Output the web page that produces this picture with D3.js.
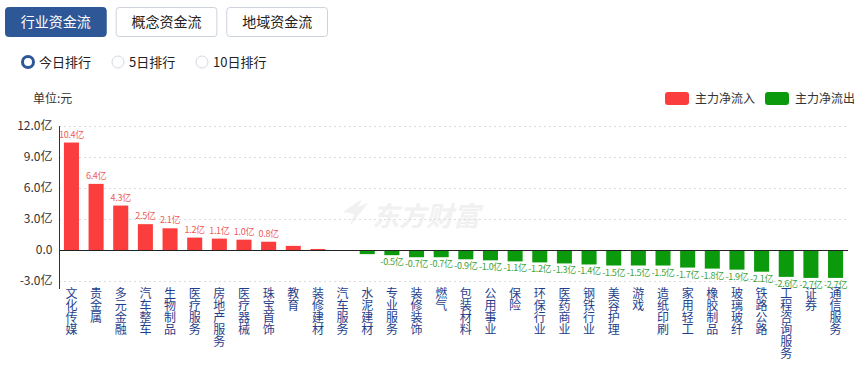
<!DOCTYPE html>
<html><head><meta charset="utf-8">
<script src="https://cdn.jsdelivr.net/npm/d3@7/dist/d3.min.js"></script>
<style>
body{margin:0;background:#fff;font-family:"Microsoft YaHei","Noto Sans CJK SC",sans-serif;}
</style></head>
<body><svg id="c" width="866" height="367"></svg>
<script>
const categories = ["文化传媒","贵金属","多元金融","汽车整车","生物制品","医疗服务","房地产服务","医疗器械","珠宝首饰","教育","装修建材","汽车服务","水泥建材","专业服务","装修装饰","燃气","包装材料","公用事业","保险","环保行业","医药商业","钢铁行业","美容护理","游戏","造纸印刷","家用轻工","橡胶制品","玻璃玻纤","铁路公路","工程咨询服务","证券","通信服务"];
const values = [10.4,6.4,4.3,2.5,2.1,1.2,1.1,1.0,0.8,0.4,0.1,-0.05,-0.4,-0.5,-0.7,-0.7,-0.9,-1.0,-1.1,-1.2,-1.3,-1.4,-1.5,-1.5,-1.5,-1.7,-1.8,-1.9,-2.1,-2.6,-2.7,-2.7];
const yTicks = [-3,0,3,6,9,12];
const tabs = ["行业资金流","概念资金流","地域资金流"];
const radios = ["今日排行","5日排行","10日排行"];
const legendItems = [{name:"主力净流入",color:"#fc3d3d"},{name:"主力净流出",color:"#0b9a0b"}];

const svg = d3.select("#c");
const font = '"Microsoft YaHei","Noto Sans CJK SC",sans-serif';

// tabs
const tabX = d3.scaleBand().domain(tabs).range([5,327]).paddingInner(0.09);
tabs.forEach((t,i)=>{
  const g = svg.append("g");
  g.append("rect").attr("x",tabX(t)+0.5).attr("y",7.5).attr("width",tabX.bandwidth()).attr("height",29)
    .attr("rx",3).attr("fill",i===0?"#2d5797":"#fff").attr("stroke",i===0?"#2d5797":"#ccd3dc");
  g.append("text").attr("x",tabX(t)+tabX.bandwidth()/2+0.5).attr("y",27).attr("text-anchor","middle")
    .attr("font-size",14).attr("font-family",font).attr("fill",i===0?"#fff":"#222").text(t);
});
// radios
const radioX = [28,118,202];
radios.forEach((r,i)=>{
  if(i===0){
    svg.append("circle").attr("cx",radioX[i]).attr("cy",62).attr("r",5.5).attr("fill","#fff").attr("stroke","#2d5797").attr("stroke-width",3);
  } else {
    svg.append("circle").attr("cx",radioX[i]).attr("cy",62).attr("r",6).attr("fill","#fff").attr("stroke","#d3d8e0").attr("stroke-width",1);
  }
  svg.append("text").attr("x",radioX[i]+11).attr("y",67).attr("font-size",13).attr("font-family",font).attr("fill","#222").text(r);
});
svg.append("text").attr("x",33).attr("y",103).attr("font-size",12).attr("font-family",font).attr("fill","#333").text("单位:元");

// legend
const legX=[665,765];
legendItems.forEach((l,i)=>{
  svg.append("rect").attr("x",legX[i]).attr("y",92).attr("width",24).attr("height",13).attr("rx",3).attr("fill",l.color);
  svg.append("text").attr("x",legX[i]+30).attr("y",103).attr("font-size",12).attr("font-family",font).attr("fill","#333").text(l.name);
});

// watermark
const wm = svg.append("g");
wm.append("path").attr("d","M343,212 L362,199 L358,207 L368,203 L350,226 L354,214 Z").attr("fill","#f1f1f1");
wm.append("text").attr("x",372).attr("y",226).attr("font-size",27).attr("font-weight","bold").attr("font-style","italic")
  .attr("font-family",font).attr("fill","#f1f1f1").text("东方财富");

// chart
const x = d3.scaleBand().domain(categories).range([59,848]).paddingInner(0.39).paddingOuter(0.2);
const y = d3.scaleLinear().domain([-3,12]).range([281,126]);

// grid
svg.append("g").selectAll("line").data(yTicks.filter(d=>d!==0)).join("line")
  .attr("x1",59).attr("x2",848).attr("y1",d=>Math.round(y(d))+0.5).attr("y2",d=>Math.round(y(d))+0.5)
  .attr("stroke","#dcdcdc").attr("stroke-dasharray","2,3");

// y axis
const yAxis = d3.axisLeft(y).tickValues(yTicks).tickSize(0).tickPadding(7)
  .tickFormat(d=> d===0 ? "0.0" : d.toFixed(1)+"亿");
const ya = svg.append("g").attr("transform","translate(59.5,0)").call(yAxis);
ya.select(".domain").remove();
ya.selectAll("text").attr("font-size",12).attr("font-family",font).attr("fill","#333");
svg.append("line").attr("x1",59.5).attr("x2",59.5).attr("y1",126).attr("y2",289).attr("stroke","#333");

// bars
svg.append("g").selectAll("rect").data(values).join("rect")
  .attr("x",(d,i)=>x(categories[i]))
  .attr("width",x.bandwidth())
  .attr("y",d=>d>=0?y(d):y(0))
  .attr("height",d=>Math.max(1,Math.abs(y(d)-y(0))))
  .attr("fill",d=>d>=0?"#fc3d3d":"#0b9a0b");

// zero line
svg.append("line").attr("x1",59).attr("x2",848).attr("y1",y(0)+0.5).attr("y2",y(0)+0.5).attr("stroke","#222");

// value labels
values.forEach((d,i)=>{
  if(Math.abs(d)<0.5) return;
  svg.append("text")
    .attr("x",x(categories[i])+x.bandwidth()/2)
    .attr("y",d>=0?y(d)-5:y(d)+10)
    .attr("text-anchor","middle").attr("font-size",9).attr("font-family",font)
    .attr("fill",d>=0?"#ee5a5a":"#3aa33a").attr("letter-spacing","-0.3")
    .text(d.toFixed(1)+"亿");
});

// x labels vertical
const xl = svg.append("g");
categories.forEach((c,i)=>{
  const cx = x(categories[i])+x.bandwidth()/2;
  xl.append("text").attr("x",cx).attr("y",287)
    .attr("writing-mode","vertical-rl").attr("text-orientation","upright")
    .attr("font-size",12).attr("font-family",font).attr("fill","#1f3f8c").text(c);
});
</script></body></html>
